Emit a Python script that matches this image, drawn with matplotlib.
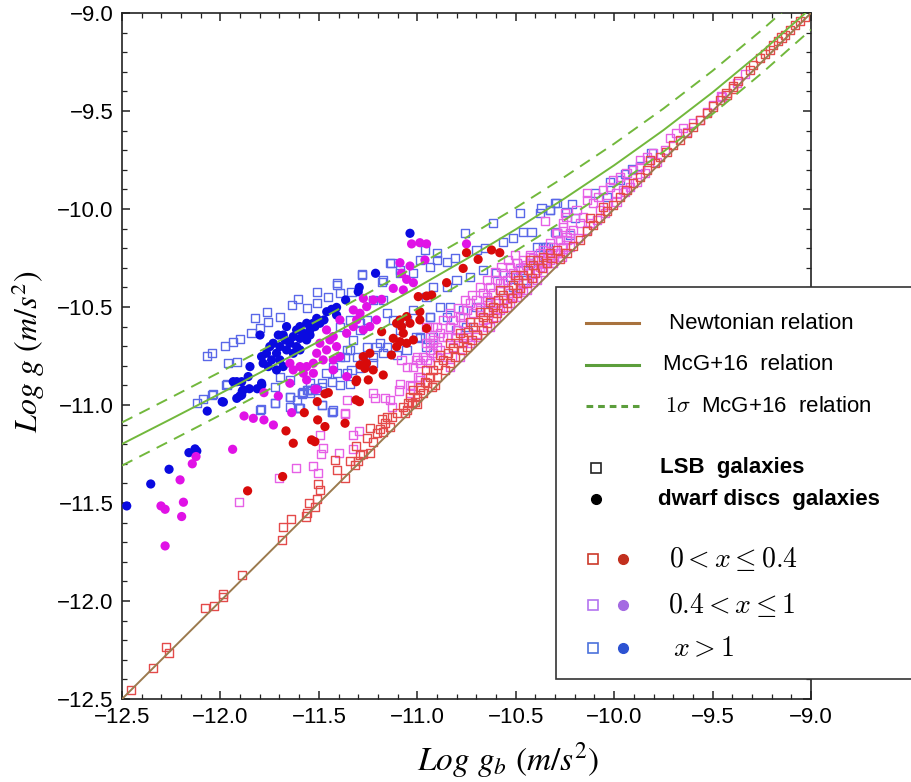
import matplotlib
matplotlib.use('Agg')
import matplotlib.pyplot as plt
from matplotlib.lines import Line2D
from matplotlib.patches import Rectangle
from matplotlib.ticker import MultipleLocator, FuncFormatter

# ---- relation curves (log g_b, log g) ----
curve_x = [-12.5, -12.25, -12.0, -11.75, -11.5, -11.25, -11.0, -10.75, -10.5,
           -10.25, -10.0, -9.75, -9.5, -9.25, -9.0]
mcg_y = [-11.199, -11.071, -10.941, -10.809, -10.676, -10.539, -10.399, -10.255,
         -10.104, -9.945, -9.777, -9.598, -9.405, -9.197, -8.975]
mcg_hi = [-11.089, -10.961, -10.831, -10.699, -10.566, -10.429, -10.289, -10.145,
          -9.994, -9.835, -9.667, -9.488, -9.295, -9.087, -8.865]
mcg_lo = [-11.309, -11.181, -11.051, -10.919, -10.786, -10.649, -10.509, -10.365,
          -10.214, -10.055, -9.887, -9.708, -9.515, -9.307, -9.085]
newton_x = [-12.5, -9.0]
newton_y = [-12.5, -9.0]

# ---- LSB galaxies, 0 < x <= 0.4 ----
lsb_red = [
    (-12.456, -12.454), (-12.341, -12.340), (-12.278, -12.236), (-12.260, -12.264),
    (-12.077, -12.034), (-12.031, -12.026), (-11.989, -11.978), (-11.985, -11.964),
    (-11.892, -11.867),
    (-11.689, -11.688), (-11.680, -11.624), (-11.641, -11.583), (-11.565, -11.569),
    (-11.562, -11.549), (-11.548, -11.498), (-11.519, -11.522), (-11.511, -11.479),
    (-11.506, -11.404), (-11.494, -11.433), (-11.367, -11.374), (-11.409, -11.331),
    (-11.418, -11.280), (-11.342, -11.284), (-11.316, -11.306), (-11.299, -11.285),
    (-11.291, -11.255), (-11.274, -11.250), (-11.240, -11.246), (-11.257, -11.170),
    (-11.223, -11.187), (-11.240, -11.119), (-11.206, -11.144), (-11.189, -11.124),
    (-11.172, -11.136), (-11.164, -11.093), (-11.181, -11.073), (-11.155, -11.062),
    (-11.130, -11.059), (-11.105, -11.042), (-11.062, -11.042), (-11.045, -10.988),
    (-11.037, -10.957), (-11.003, -10.994), (-10.986, -10.923), (-10.952, -10.889),
    (-10.910, -10.898), (-11.311, -11.209), (-11.139, -11.110),
    (-11.054, -11.025), (-11.029, -10.991), (-11.003, -10.957), (-11.020, -10.923),
    (-10.986, -10.906), (-10.961, -10.881), (-10.936, -10.855), (-10.953, -10.821),
    (-10.919, -10.821), (-10.893, -10.796), (-10.868, -10.770), (-10.885, -10.745),
    (-10.843, -10.736), (-10.817, -10.711), (-10.834, -10.685), (-10.792, -10.685),
    (-10.766, -10.660), (-10.783, -10.634), (-10.741, -10.626), (-10.716, -10.600),
    (-10.732, -10.575), (-10.690, -10.575), (-10.665, -10.549), (-10.682, -10.524),
    (-10.639, -10.524), (-10.614, -10.498), (-10.631, -10.473), (-10.589, -10.464),
    (-10.563, -10.439), (-10.580, -10.413), (-10.538, -10.413), (-10.512, -10.388),
    (-10.487, -10.362), (-10.504, -10.337), (-10.462, -10.337), (-10.436, -10.311),
    (-10.411, -10.286), (-10.428, -10.260), (-10.385, -10.260), (-10.360, -10.243),
    (-10.326, -10.226), (-10.292, -10.209),
    (-11.071, -11.008), (-11.012, -10.983), (-10.969, -10.940), (-10.927, -10.906),
    (-10.902, -10.855), (-10.859, -10.821), (-10.834, -10.787), (-10.809, -10.753),
    (-10.775, -10.719), (-10.749, -10.702), (-10.724, -10.668), (-10.699, -10.643),
    (-10.665, -10.617), (-10.648, -10.583), (-10.614, -10.558), (-10.597, -10.532),
    (-10.563, -10.507), (-10.546, -10.481), (-10.521, -10.456), (-10.495, -10.430),
    (-10.479, -10.405), (-10.445, -10.379), (-10.419, -10.354), (-10.402, -10.328),
    (-10.368, -10.303), (-10.343, -10.277), (-10.318, -10.251),
    (-10.275, -10.257), (-10.242, -10.225), (-10.208, -10.191), (-10.174, -10.157),
    (-10.140, -10.114), (-10.106, -10.080), (-10.072, -10.046), (-10.038, -10.012),
    (-10.123, -10.048), (-10.055, -9.988), (-10.005, -9.980), (-9.971, -9.937),
    (-9.937, -9.903), (-9.903, -9.869), (-9.869, -9.835), (-9.835, -9.801),
    (-9.818, -9.750), (-9.793, -9.767), (-9.768, -9.733), (-9.734, -9.708),
    (-9.700, -9.674), (-9.666, -9.648), (-9.632, -9.614), (-9.598, -9.580),
    (-9.564, -9.545), (-9.530, -9.511), (-9.497, -9.477), (-9.463, -9.443),
    (-9.429, -9.417), (-9.395, -9.385),
    (-9.429, -9.409), (-9.395, -9.375), (-9.370, -9.349), (-9.311, -9.290),
    (-9.294, -9.264), (-9.260, -9.230), (-9.234, -9.210), (-9.209, -9.188),
    (-9.192, -9.162), (-9.167, -9.145), (-9.150, -9.125), (-9.133, -9.111),
    (-9.107, -9.086), (-9.082, -9.063), (-9.057, -9.043), (-9.031, -9.018),
]

# ---- LSB galaxies, 0.4 < x <= 1 ----
lsb_mag = [
    (-11.904, -11.493), (-11.701, -11.374), (-11.615, -11.320), (-11.532, -11.311),
    (-11.503, -11.345), (-11.491, -11.250), (-11.478, -11.221), (-11.494, -11.153),
    (-11.396, -11.243), (-11.328, -11.224), (-11.325, -11.153), (-11.294, -11.131),
    (-11.367, -11.045), (-11.359, -10.974), (-11.223, -10.940), (-11.215, -10.966),
    (-11.164, -10.966), (-11.139, -10.974), (-11.130, -11.008), (-11.091, -10.926),
    (-11.088, -10.892), (-11.028, -10.903), (-11.037, -10.940), (-11.368, -11.042),
    (-10.936, -10.685), (-10.919, -10.736), (-11.003, -10.753), (-10.986, -10.855),
    (-11.080, -10.770), (-11.037, -10.898), (-10.995, -10.855), (-11.054, -10.804),
    (-10.986, -10.787), (-10.969, -10.753), (-10.936, -10.719), (-10.953, -10.685),
    (-10.919, -10.668), (-10.902, -10.702), (-10.885, -10.634), (-10.851, -10.651),
    (-10.834, -10.600), (-10.817, -10.566), (-10.800, -10.617), (-10.783, -10.549),
    (-10.766, -10.583), (-10.749, -10.515), (-10.732, -10.481), (-10.716, -10.532),
    (-10.699, -10.464), (-10.682, -10.498), (-10.665, -10.430), (-10.648, -10.464),
    (-10.631, -10.396), (-10.614, -10.430), (-10.597, -10.362), (-10.580, -10.379),
    (-10.563, -10.328), (-10.546, -10.362), (-10.529, -10.294), (-10.512, -10.328),
    (-10.495, -10.277), (-10.479, -10.303), (-10.462, -10.260), (-10.445, -10.286),
    (-10.428, -10.235), (-10.411, -10.252), (-10.377, -10.226), (-10.919, -10.600),
    (-10.868, -10.566), (-10.834, -10.532), (-10.792, -10.507), (-10.758, -10.464),
    (-10.724, -10.439), (-10.682, -10.396), (-10.648, -10.362), (-10.606, -10.320),
    (-10.572, -10.294), (-10.538, -10.260), (-10.504, -10.235), (-10.986, -10.872),
    (-10.953, -10.770),
    (-10.936, -10.651), (-10.902, -10.600), (-10.851, -10.753), (-10.801, -10.651),
    (-10.767, -10.549), (-10.716, -10.600), (-10.682, -10.515), (-10.648, -10.447),
    (-10.598, -10.481), (-10.564, -10.379), (-10.530, -10.430), (-10.496, -10.345),
    (-10.462, -10.294), (-10.428, -10.243), (-10.394, -10.311), (-10.361, -10.209),
    (-10.327, -10.175), (-10.293, -10.124), (-10.259, -10.090), (-10.352, -10.059),
    (-10.242, -10.039), (-10.767, -10.685), (-10.835, -10.804), (-10.699, -10.640),
    (-10.648, -10.600), (-10.598, -10.550), (-10.547, -10.500), (-10.496, -10.450),
    (-10.445, -10.413), (-10.394, -10.362), (-10.344, -10.277), (-10.293, -10.226),
    (-10.259, -10.192), (-11.004, -10.770), (-10.936, -10.787), (-10.885, -10.719),
    (-10.953, -10.600), (-10.919, -10.685), (-10.868, -10.651), (-10.835, -10.600),
    (-10.818, -10.702), (-10.784, -10.753), (-10.750, -10.651), (-10.733, -10.685),
    (-10.699, -10.651), (-10.665, -10.566), (-10.631, -10.600), (-10.614, -10.532),
    (-10.581, -10.515), (-10.564, -10.464), (-10.530, -10.481), (-10.513, -10.447),
    (-10.479, -10.413), (-10.462, -10.379), (-10.428, -10.328), (-10.411, -10.371),
    (-10.377, -10.294), (-10.361, -10.320), (-10.327, -10.243), (-10.310, -10.277),
    (-10.276, -10.226), (-10.259, -10.226), (-10.242, -10.158), (-10.276, -10.158),
    (-10.225, -10.124), (-10.462, -10.422), (-10.902, -10.753), (-11.021, -10.804),
    (-10.648, -10.515),
    (-10.343, -10.226), (-10.309, -10.192), (-10.326, -10.260), (-10.275, -10.158),
    (-10.292, -10.124), (-10.242, -10.141), (-10.208, -10.107), (-10.259, -10.073),
    (-10.174, -10.073), (-10.157, -10.039), (-10.191, -10.005), (-10.140, -9.954),
    (-10.106, -9.971), (-10.081, -9.937), (-10.055, -9.903), (-10.021, -9.886),
    (-10.005, -9.852), (-9.971, -9.835), (-9.937, -9.818), (-9.903, -9.801),
    (-9.869, -9.784), (-9.835, -9.733), (-9.801, -9.716), (-9.869, -9.750),
    (-9.937, -9.869), (-10.072, -10.005), (-10.123, -10.073), (-9.717, -9.640),
    (-9.683, -9.614), (-9.649, -9.589), (-9.598, -9.563), (-9.497, -9.470),
    (-9.454, -9.427), (-10.038, -9.971), (-9.988, -9.920), (-9.954, -9.903),
    (-9.920, -9.886), (-10.140, -9.920), (-10.250, -10.022),
    (-10.360, -10.277), (-10.318, -10.277), (-10.267, -10.243), (-10.225, -10.192),
    (-10.182, -10.150), (-10.140, -10.107), (-10.089, -10.056), (-10.047, -10.022),
    (-9.988, -9.963), (-9.945, -9.912), (-9.886, -9.861), (-9.844, -9.818),
    (-9.784, -9.759), (-9.742, -9.699), (-9.632, -9.606), (-9.564, -9.546),
    (-9.530, -9.504),
    (-9.455, -9.424), (-9.378, -9.356), (-9.336, -9.312),
]

# ---- LSB galaxies, x > 1 ----
lsb_blue = [
    (-12.121, -10.988), (-12.087, -10.971), (-12.044, -10.949), (-11.968, -10.892),
    (-11.723, -10.909), (-11.723, -10.991), (-11.796, -11.022), (-11.647, -10.957),
    (-11.601, -11.017), (-11.587, -10.943), (-11.554, -10.923), (-11.520, -10.915),
    (-11.482, -11.000), (-11.432, -11.034),
    (-12.070, -10.750), (-12.045, -10.736), (-11.977, -10.699), (-11.935, -10.677),
    (-11.901, -10.663), (-11.960, -10.787), (-11.918, -10.779), (-11.842, -10.634),
    (-11.825, -10.558), (-11.799, -10.609), (-11.765, -10.524), (-11.757, -10.575),
    (-11.698, -10.552), (-11.638, -10.490), (-11.605, -10.459), (-11.562, -10.503),
    (-11.511, -10.422), (-11.511, -10.481), (-11.452, -10.450), (-11.410, -10.379),
    (-11.393, -10.430), (-11.334, -10.422), (-11.283, -10.331), (-11.181, -10.371),
    (-11.173, -10.464), (-11.131, -10.274), (-11.088, -10.328), (-11.020, -10.328),
    (-10.987, -10.260), (-10.936, -10.294), (-10.902, -10.226), (-11.224, -10.464),
    (-11.257, -10.566), (-11.291, -10.617), (-11.325, -10.668), (-11.359, -10.719),
    (-11.393, -10.753), (-11.427, -10.804), (-11.461, -10.838), (-11.486, -10.889),
    (-11.511, -10.923), (-11.545, -10.940), (-11.579, -10.932), (-11.613, -10.974),
    (-11.647, -11.008), (-11.799, -11.025), (-11.393, -10.898), (-11.359, -10.838),
    (-11.308, -10.753), (-11.257, -10.702), (-11.190, -10.685), (-11.156, -10.702),
    (-11.224, -10.753), (-11.291, -10.813), (-11.334, -10.821), (-11.410, -10.838),
    (-10.987, -10.651), (-10.953, -10.702), (-12.036, -10.943), (-11.969, -10.898),
    (-11.427, -11.028), (-11.596, -11.017), (-11.545, -10.889), (-11.647, -10.872),
    (-11.698, -10.855), (-11.122, -10.566), (-11.156, -10.532), (-11.088, -10.617),
    (-11.054, -10.566), (-11.020, -10.515), (-10.936, -10.549), (-10.919, -10.651),
    (-11.410, -10.388), (-11.283, -10.337), (-11.173, -10.362), (-11.139, -10.277),
    (-11.088, -10.311), (-10.962, -10.209), (-10.902, -10.260), (-10.851, -10.269),
    (-10.809, -10.252), (-10.758, -10.124), (-10.699, -10.209), (-10.657, -10.201),
    (-10.614, -10.073), (-10.564, -10.167), (-10.513, -10.150), (-10.479, -10.022),
    (-10.462, -10.116), (-10.420, -10.116), (-10.377, -10.022), (-10.327, -10.005),
    (-10.293, -9.971), (-10.293, -10.124), (-10.394, -10.192), (-10.344, -10.192),
    (-10.479, -10.311), (-10.428, -10.277), (-10.530, -10.345), (-10.598, -10.328),
    (-10.665, -10.311), (-10.733, -10.345), (-10.801, -10.362), (-10.851, -10.396),
    (-10.919, -10.396), (-10.953, -10.447), (-10.885, -10.498), (-10.835, -10.498),
    (-10.767, -10.515), (-10.699, -10.498), (-10.631, -10.481), (-10.581, -10.413),
    (-10.513, -10.396), (-10.445, -10.362), (-10.394, -10.260), (-10.936, -10.549),
    (-10.851, -10.549), (-10.801, -10.617), (-10.750, -10.600), (-11.004, -10.651),
    (-10.987, -10.660), (-11.055, -10.719), (-11.105, -10.745), (-11.173, -10.736),
    (-11.207, -10.702), (-11.224, -10.787), (-11.275, -10.753), (-11.342, -10.719),
    (-11.368, -10.753), (-11.292, -10.583), (-11.342, -10.566), (-11.393, -10.600),
    (-10.369, -9.997), (-10.326, -10.005), (-10.301, -9.971), (-10.216, -9.974),
    (-10.242, -10.014), (-10.199, -10.048), (-10.301, -10.116), (-10.225, -10.133),
    (-10.360, -10.192), (-10.335, -10.192), (-10.098, -9.917), (-10.038, -9.937),
    (-10.021, -9.861), (-9.971, -9.852), (-9.945, -9.821), (-9.911, -9.796),
    (-9.869, -9.781), (-9.810, -9.713),
    (-11.587, -10.940), (-11.562, -10.923), (-11.536, -10.923), (-11.486, -10.906),
    (-11.435, -10.881), (-11.342, -10.892), (-11.486, -11.000), (-11.435, -11.034),
    (-11.599, -11.017), (-11.723, -10.991), (-11.646, -10.957),
]

# ---- dwarf disc galaxies ----
dwarf_blue = [
    (-12.476, -11.515), (-12.354, -11.403), (-12.261, -11.328), (-12.160, -11.243),
    (-12.129, -11.224), (-12.120, -11.235), (-12.067, -11.031), (-11.991, -10.983),
    (-11.985, -10.985), (-11.917, -10.966), (-11.901, -10.954), (-11.889, -10.929),
    (-11.853, -10.917), (-11.813, -10.917), (-11.790, -10.898), (-11.917, -10.881),
    (-11.892, -10.881),
    (-11.037, -10.124), (-11.212, -10.328), (-11.300, -10.422), (-11.295, -10.400),
    (-11.364, -10.464), (-11.410, -10.502), (-11.435, -10.512), (-11.460, -10.524),
    (-11.511, -10.558), (-11.474, -10.566), (-11.495, -10.583), (-11.529, -10.583),
    (-11.562, -10.583), (-11.596, -10.600), (-11.613, -10.617), (-11.579, -10.634),
    (-11.545, -10.617), (-11.520, -10.600), (-11.630, -10.651), (-11.596, -10.660),
    (-11.562, -10.668), (-11.664, -10.600), (-11.681, -10.643), (-11.647, -10.685),
    (-11.613, -10.702), (-11.664, -10.719), (-11.698, -10.702), (-11.732, -10.685),
    (-11.715, -10.736), (-11.749, -10.702), (-11.766, -10.736), (-11.740, -10.770),
    (-11.698, -10.770), (-11.681, -10.804), (-11.715, -10.821), (-11.757, -10.804),
    (-11.783, -10.787), (-11.791, -10.753), (-11.799, -10.643), (-11.706, -10.643),
    (-11.672, -10.668), (-11.630, -10.736), (-11.596, -10.719), (-11.545, -10.643),
    (-11.850, -10.804), (-11.859, -10.855), (-11.884, -10.923), (-11.935, -10.881),
    (-11.791, -10.889), (-11.892, -10.949), (-11.410, -10.541),
]

dwarf_mag = [
    (-12.281, -11.719), (-12.302, -11.515), (-12.281, -11.532), (-12.197, -11.569),
    (-12.188, -11.496), (-12.205, -11.382), (-12.143, -11.300), (-12.124, -11.263),
    (-11.938, -11.226), (-11.880, -11.056), (-11.833, -11.068), (-11.779, -11.076),
    (-11.731, -11.102), (-11.779, -10.937), (-11.706, -10.954), (-11.638, -11.039),
    (-11.520, -10.920), (-11.511, -10.920),
    (-11.029, -10.178), (-10.987, -10.172), (-10.953, -10.178), (-11.088, -10.274),
    (-11.037, -10.291), (-11.080, -10.328), (-10.961, -10.260), (-11.054, -10.359),
    (-11.020, -10.376), (-11.122, -10.405), (-11.071, -10.413), (-11.181, -10.461),
    (-11.274, -10.456), (-11.224, -10.464), (-11.257, -10.498), (-11.291, -10.532),
    (-11.325, -10.515), (-11.308, -10.566), (-11.207, -10.566), (-11.241, -10.600),
    (-11.274, -10.617), (-11.325, -10.600), (-11.393, -10.566), (-11.359, -10.634),
    (-11.427, -10.651), (-11.461, -10.617), (-11.444, -10.668), (-11.495, -10.685),
    (-11.511, -10.736), (-11.461, -10.719), (-11.410, -10.702), (-11.393, -10.753),
    (-11.427, -10.770), (-11.478, -10.770), (-11.528, -10.787), (-11.562, -10.804),
    (-11.596, -10.804), (-11.630, -10.821), (-11.647, -10.787), (-11.579, -10.838),
    (-11.528, -10.838), (-11.427, -10.821), (-11.359, -10.855), (-11.562, -10.872),
    (-11.647, -10.889), (-10.750, -10.178),
]

dwarf_red = [
    (-11.862, -11.438), (-11.684, -11.365), (-11.667, -11.132), (-11.630, -11.195),
    (-11.574, -11.039), (-11.537, -11.178), (-11.520, -11.187), (-11.506, -11.076),
    (-11.508, -10.983), (-11.469, -11.110), (-11.469, -10.943),
    (-11.367, -11.093), (-11.452, -10.937), (-11.311, -10.974), (-11.294, -10.983),
    (-11.311, -10.881), (-11.249, -10.872),
    (-10.995, -10.447), (-10.953, -10.444), (-10.927, -10.439), (-10.987, -10.524),
    (-10.987, -10.566), (-11.054, -10.549), (-11.088, -10.566), (-11.105, -10.583),
    (-11.080, -10.600), (-11.037, -10.583), (-11.071, -10.634), (-11.122, -10.660),
    (-11.088, -10.677), (-11.054, -10.685), (-11.105, -10.702), (-11.131, -10.745),
    (-11.020, -10.668), (-10.953, -10.609), (-11.181, -10.626), (-11.274, -10.753),
    (-11.241, -10.736), (-11.258, -10.787), (-11.224, -10.821), (-11.291, -10.796),
    (-11.266, -10.813), (-11.173, -10.847), (-11.308, -10.872),
    (-10.750, -10.223), (-10.691, -10.257), (-10.623, -10.209), (-10.581, -10.223),
    (-10.767, -10.303), (-10.851, -10.376),
]

sq_colors = {'red': '#e44a4a', 'mag': '#e660e6', 'blue': '#5a68e8'}
dot_colors = {'red': '#d80a0a', 'mag': '#e012e6', 'blue': '#0a0ae0'}

W, H = 912, 782
fig = plt.figure(figsize=(W / 100, H / 100), dpi=100)
ax = fig.add_axes([122 / W, 1 - 699 / H, 689 / W, 686 / H])

for pts, c in [(lsb_blue, 'blue'), (lsb_mag, 'mag'), (lsb_red, 'red')]:
    xs, ys = zip(*pts)
    ax.scatter(xs, ys, marker='s', s=34, facecolors='none',
               edgecolors=sq_colors[c], linewidths=1.0, zorder=2)

for pts, c in [(dwarf_blue, 'blue'), (dwarf_mag, 'mag'), (dwarf_red, 'red')]:
    xs, ys = zip(*pts)
    ax.scatter(xs, ys, marker='o', s=44, color=dot_colors[c],
               edgecolors='none', zorder=3)

ax.plot(newton_x, newton_y, color='#9b7a4e', lw=1.4, zorder=4)
ax.plot(curve_x, mcg_y, color='#72b83c', lw=1.4, zorder=4)
ax.plot(curve_x, mcg_hi, color='#72b83c', lw=1.4, ls=(0, (6, 4)), zorder=4)
ax.plot(curve_x, mcg_lo, color='#72b83c', lw=1.4, ls=(0, (6, 4)), zorder=4)

ax.set_xlim(-12.5, -9.0)
ax.set_ylim(-12.5, -9.0)
ax.xaxis.set_major_locator(MultipleLocator(0.5))
ax.yaxis.set_major_locator(MultipleLocator(0.5))
ax.xaxis.set_minor_locator(MultipleLocator(0.1))
ax.yaxis.set_minor_locator(MultipleLocator(0.1))
fmt = FuncFormatter(lambda v, p: ('%.1f' % v).replace('-', '\u2212'))
ax.xaxis.set_major_formatter(fmt)
ax.yaxis.set_major_formatter(fmt)
ax.tick_params(which='both', direction='in', top=True, right=True, color='#222222')
ax.tick_params(which='major', length=6, width=1.1, labelsize=16, pad=6)
ax.tick_params(which='minor', length=3.5, width=0.9)
for lab in ax.get_xticklabels() + ax.get_yticklabels():
    lab.set_family('Liberation Sans')
for sp in ax.spines.values():
    sp.set_linewidth(1.2)
    sp.set_color('#222222')

plt.rcParams['mathtext.fontset'] = 'stix'
fig.text(508 / W, 1 - 760 / H, r'$Log\ g_b\ (m/s^2)$', fontsize=24,
         ha='center', va='center')
fig.text(28 / W, 1 - 352 / H, r'$Log\ g\ (m/s^2)$', fontsize=23,
         ha='center', va='center', rotation=90)

# ---- legend box (hand placed, runs off the right edge) ----
def fx(px):
    return px / W


def fy(py):
    return 1 - py / H


fig.add_artist(Rectangle((fx(556), fy(679)), fx(400), 392 / H, transform=fig.transFigure,
                         facecolor='white', edgecolor='#333333', lw=1.2, zorder=5))

leg_lines = [
    ('#a8723e', '-', 323, 669, 'Newtonian relation'),
    ('#5c9e3c', '-', 365, 663, 'McG+16  relation'),
    ('#5c9e3c', (0, (2.2, 1.6)), 406, 665, r'$1\sigma$  McG+16  relation'),
]
for col, ls, py, tx, label in leg_lines:
    fig.add_artist(Line2D([fx(586), fx(639)], [fy(py), fy(py)], transform=fig.transFigure,
                          color=col, lw=2.2, ls=ls, zorder=6))
    fig.text(fx(tx), fy(py), label, fontsize=16, family='Liberation Sans',
             math_fontfamily='cm', va='center', ha='left', zorder=6)

fig.add_artist(Line2D([fx(596)], [fy(468)], transform=fig.transFigure, marker='s', ms=7,
                      mfc='white', mec='#222222', mew=1.2, ls='none', zorder=6))
fig.add_artist(Line2D([fx(596)], [fy(499)], transform=fig.transFigure, marker='o', ms=7,
                      color='black', ls='none', zorder=6))
fig.text(fx(660), fy(468), 'LSB  galaxies', fontsize=16, fontweight='bold',
         family='Liberation Sans', va='center', zorder=6)
fig.text(fx(658), fy(499), 'dwarf discs  galaxies', fontsize=16, fontweight='bold',
         family='Liberation Sans', va='center', zorder=6)

leg_bins = [
    ('#cc3a2a', '#c2301e', 559, 669, r'$0 < x \leq 0.4$'),
    ('#b474f0', '#a46ae2', 605, 668, r'$0.4 < x \leq 1$'),
    ('#4c72dc', '#2c52d2', 648, 673, r'$x > 1$'),
]
for sqc, dotc, py, tx, label in leg_bins:
    fig.add_artist(Line2D([fx(593)], [fy(py)], transform=fig.transFigure, marker='s', ms=7,
                          mfc='white', mec=sqc, mew=1.2, ls='none', zorder=6))
    fig.add_artist(Line2D([fx(623)], [fy(py)], transform=fig.transFigure, marker='o', ms=7,
                          color=dotc, ls='none', zorder=6))
    fig.text(fx(tx), fy(py), label, fontsize=20, math_fontfamily='cm',
             va='center', ha='left', zorder=6)

fig.savefig('out.png', dpi=100)
